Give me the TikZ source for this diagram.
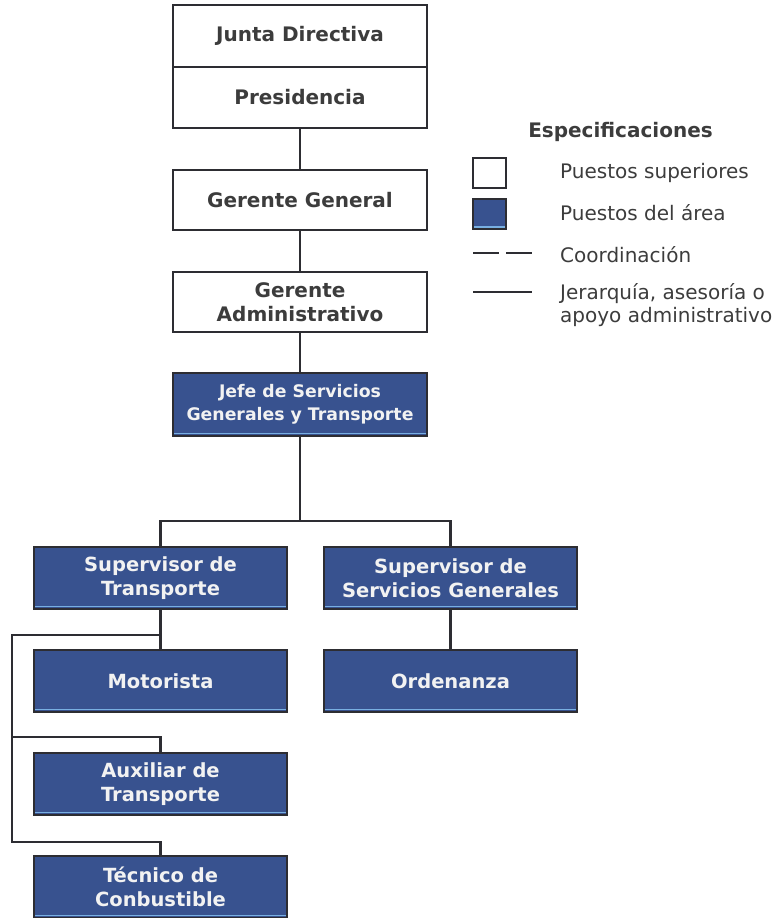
\documentclass[tikz,border=0pt]{standalone}
\usepackage{fontspec}
\setmainfont{DejaVu Sans}
\definecolor{boxblue}{RGB}{56,82,143}
\definecolor{lineblue}{RGB}{120,175,225}
\definecolor{edge}{RGB}{45,45,50}
\definecolor{wtext}{RGB}{242,242,242}
\definecolor{gtext}{RGB}{60,60,60}
\begin{document}
\begin{tikzpicture}[x=1pt,y=-1pt,
  wbox/.style={draw=edge, line width=2pt, fill=white, minimum width=254pt, align=center,
    text=gtext, font=\fontsize{20}{24}\selectfont\bfseries, inner sep=0pt},
  bbox/.style={draw=edge, line width=2pt, fill=boxblue, minimum width=253pt, minimum height=62pt,
    align=center, text=wtext, font=\fontsize{19.5}{24}\selectfont\bfseries, inner sep=0pt,
    path picture={\draw[lineblue, line width=1.3pt]
      ([yshift=2.5pt]path picture bounding box.south west) -- ([yshift=2.5pt]path picture bounding box.south east);}},
  conn/.style={draw=edge, line width=2.2pt},
  legtext/.style={anchor=west, text=gtext, font=\fontsize{20}{22.5}\selectfont, align=left, inner sep=0pt}
]
\useasboundingbox (0,0) rectangle (778,918);
% top chain
\node[wbox, minimum height=62pt] (jd) at (300,36) {Junta Directiva};
\node[wbox, minimum height=61pt] (pres) at (300,97.5) {Presidencia};
\node[wbox, minimum height=60pt] (gg) at (300,200) {Gerente General};
\node[wbox, minimum height=60pt] (ga) at (300,302) {Gerente\\Administrativo};
\node[bbox, minimum width=254pt, minimum height=63pt, font=\fontsize{17.3}{23}\selectfont\bfseries] (jefe) at (300,404.5) {Jefe de Servicios\\Generales y Transporte};
% second level
\node[bbox] (st) at (160.5,578) {Supervisor de\\Transporte};
\node[bbox] (ssg) at (450.5,578) {Supervisor de\\Servicios Generales};
\node[bbox] (mot) at (160.5,681) {Motorista};
\node[bbox] (ord) at (450.5,681) {Ordenanza};
\node[bbox] (aux) at (160.5,784) {Auxiliar de\\Transporte};
\node[bbox] (tec) at (160.5,887) {Técnico de\\Conbustible};
% connectors
\draw[conn] (pres.south) -- (gg.north);
\draw[conn] (gg.south) -- (ga.north);
\draw[conn] (ga.south) -- (jefe.north);
\coordinate (bus) at (300,521);
\draw[conn] (jefe.south) -- (bus);
\draw[conn] (st.north) |- (bus) -| (ssg.north);
\draw[conn] (st.south) -- (mot.north);
\draw[conn] (ssg.south) -- (ord.north);
\coordinate (lt) at (12,635);
\coordinate (lm) at (12,737);
\coordinate (lb) at (12,842);
\draw[conn] (lt -| st.south) -- (lt) -- (lb) -| (tec.north);
\draw[conn] (lm) -| (aux.north);
% legend
\node[font=\fontsize{20}{24}\selectfont\bfseries, text=gtext, inner sep=0pt] (legtitle) at (620.5,132) {Especificaciones};
\node[draw=edge, line width=1.6pt, fill=white, minimum width=33pt, minimum height=30pt, inner sep=0pt] (lw) at (489.5,173) {};
\node[draw=edge, line width=1.6pt, fill=boxblue, minimum width=33pt, minimum height=30pt, inner sep=0pt,
  path picture={\draw[lineblue, line width=1.3pt]
      ([yshift=2pt]path picture bounding box.south west) -- ([yshift=2pt]path picture bounding box.south east);}] (lb2) at (489.5,214) {};
\coordinate (d1) at (473,253);
\coordinate (d2) at (532,253);
\draw[conn, dash pattern=on 26pt off 7pt] (d1) -- (d2);
\coordinate (s1) at (473,292);
\coordinate (s2) at (532,292);
\draw[conn] (s1) -- (s2);
\node[legtext] (t1) at (560,173) {Puestos superiores};
\node[legtext] (t2) at (560,213) {Puestos del área};
\node[legtext] (t3) at (560,255) {Coordinación};
\node[legtext] (t4) at (560,305) {Jerarquía, asesoría o\\apoyo administrativo};
\end{tikzpicture}
\end{document}
